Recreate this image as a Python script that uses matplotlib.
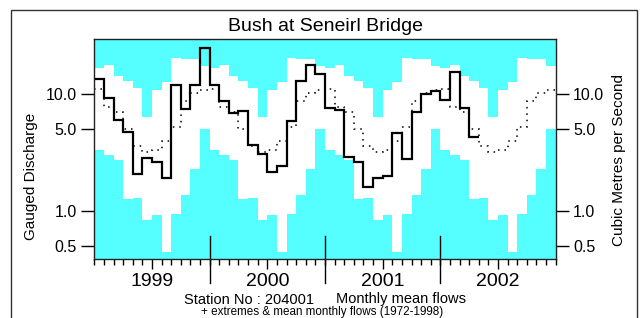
import numpy as np
import matplotlib
matplotlib.use("Agg")
import matplotlib.pyplot as plt
from matplotlib.ticker import FixedLocator, NullLocator, FixedFormatter
from matplotlib.patches import Rectangle

plt.rcParams['font.family'] = ['Liberation Sans', 'DejaVu Sans']

# ---- data ----
years = [1999, 2000, 2001, 2002]
# climatology 1972-1998 (Jan..Dec)
clim_max = [16.9, 17.9, 14.4, 13.0, 11.4, 6.34, 11.0, 12.8, 20.6, 20.1, 20.0, 17.6]
clim_min = [3.30, 2.99, 2.73, 1.26, 1.28, 0.83, 0.92, 0.445, 0.94, 1.36, 2.30, 5.0]
clim_mean = [11.1, 7.8, 7.0, 5.0, 3.6, 3.2, 3.35, 4.0, 5.2, 8.8, 10.2, 11.0]
# monthly mean flows Jan 1999 - Apr 2002
flows = [13.5, 9.29, 6.05, 4.77, 2.08, 2.82, 2.62, 1.92, 12.0, 7.52, 12.0, 25.1,
         12.0, 8.76, 6.91, 7.23, 3.65, 3.05, 2.14, 2.44, 5.90, 13.0, 17.7, 15.0,
         7.67, 7.33, 2.88, 2.62, 1.61, 1.90, 1.99, 4.62, 2.77, 7.0, 10.0, 10.7,
         8.93, 15.6, 7.58, 4.33]
yticks = [0.5, 1.0, 5.0, 10.0]
ytick_labels = ["0.5", "1.0", "5.0", "10.0"]

title = "Bush at Seneirl Bridge"
ylab_left = "Gauged Discharge"
ylab_right = "Cubic Metres per Second"
station = "Station No : 204001"
series_name = "Monthly mean flows"
note = "+ extremes & mean monthly flows (1972-1998)"

cyan = '#55FFFF'
ylim = (0.3825, 29.7)

nyears = len(years)
nmonths = 12 * nyears
edges = np.arange(nmonths + 1)
tmax = np.tile(clim_max, nyears)
tmin = np.tile(clim_min, nyears)
tmean = np.tile(clim_mean, nyears)

fig = plt.figure(figsize=(6.4, 3.18), dpi=100)
ax = fig.add_axes([94.3/640, 1-259.3/318, (555.7-94.3)/640, 220/318])
ax.set_yscale('log')
ax.set_facecolor(cyan)
ax.set_xlim(0, nmonths)
ax.set_ylim(*ylim)

# white band between min and max
ax.fill_between(edges, np.append(tmin, tmin[-1]), np.append(tmax, tmax[-1]),
                step='post', color='white', lw=0)
# mean dotted
ax.stairs(tmean, edges, baseline=None, color='black', lw=1.1,
          linestyle=(0, (1, 3.2)))
# observed flows
ax.stairs(flows, edges[:len(flows)+1], baseline=None, color='black', lw=1.6)

for s in ax.spines.values():
    s.set_linewidth(1.0)
    s.set_color('#222222')

# y ticks both sides
ax.yaxis.set_major_locator(FixedLocator(yticks))
ax.yaxis.set_major_formatter(FixedFormatter(ytick_labels))
ax.yaxis.set_minor_locator(NullLocator())
ax.tick_params(axis='y', which='major', left=True, right=True, labelleft=True,
               labelright=True, length=9.4, width=1, pad=3, labelsize=11.5)

# x ticks: mid-year labels, monthly minor ticks
mid = [12 * i + 6 for i in range(nyears)]
ax.xaxis.set_major_locator(FixedLocator(mid))
ax.xaxis.set_major_formatter(FixedFormatter([str(y) for y in years]))
ax.xaxis.set_minor_locator(FixedLocator([m for m in edges if m not in mid]))
ax.tick_params(axis='x', which='major', length=7.2, width=1, pad=2.6, labelsize=14)
ax.tick_params(axis='x', which='minor', length=4.3, width=1)

# year boundary long ticks
for b in range(12, nmonths, 12):
    ax.plot([b, b], [-0.106, 0.106], transform=ax.get_xaxis_transform(),
            color='black', lw=1, clip_on=False)

# texts
fig.text(325/640, 1-30.7/318, title, ha='center', va='baseline', fontsize=14)
fig.text(31/640, 1-176/318, ylab_left, rotation=90, ha='center', va='center', fontsize=11)
fig.text(619.5/640, 1-160/318, ylab_right, rotation=90, ha='center', va='center', fontsize=11)
fig.text(249/640, 1-303.5/318, station, ha='center', va='baseline', fontsize=10.5)
fig.text(401/640, 1-303.5/318, series_name, ha='center', va='baseline', fontsize=10.5)
fig.text(322/640, 1-315/318, note, ha='center', va='baseline', fontsize=8.4)

# outer frame
fig.patches.append(Rectangle((11/640, -0.1), (637-11)/640, 1.1 - 9.5/318,
                             transform=fig.transFigure, fill=False,
                             edgecolor='#333333', lw=1))

fig.savefig("out.png", dpi=100)
